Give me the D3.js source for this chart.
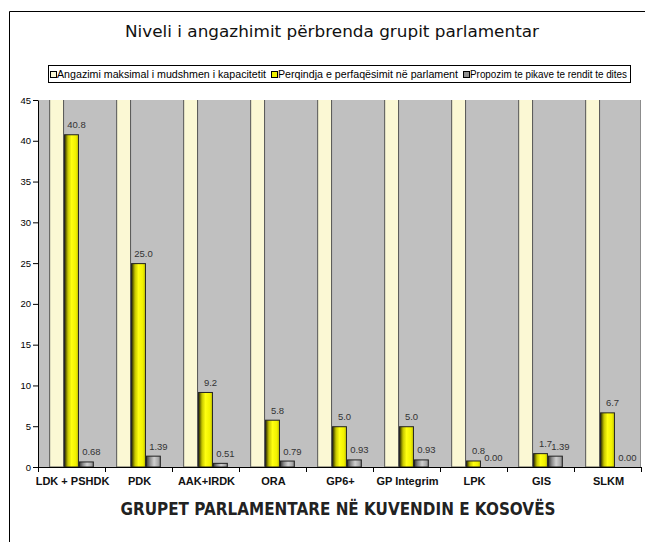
<!DOCTYPE html>
<html>
<head>
<meta charset="utf-8">
<script src="https://cdn.jsdelivr.net/npm/d3@7"></script>
<style>
  body { margin: 0; background: #fff; overflow: hidden; }
  svg { display: block; }
</style>
</head>
<body>
<div id="contenedor"></div>
<script>
// datos
const grupos = ["LDK + PSHDK", "PDK", "AAK+IRDK", "ORA", "GP6+", "GP Integrim", "LPK", "GIS", "SLKM"];
const serieMaksimal = [100, 100, 100, 100, 100, 100, 100, 100, 100];
const seriePerqindja = [40.8, 25.0, 9.2, 5.8, 5.0, 5.0, 0.8, 1.7, 6.7];
const seriePropozim = [0.68, 1.39, 0.51, 0.79, 0.93, 0.93, 0.00, 1.39, 0.00];
const nombresSeries = [
    "Angazimi maksimal i mudshmen i kapacitetit",
    "Perqindja e perfaqësimit në parlament",
    "Propozim te pikave te rendit te dites"
];
const ticksY = [0, 5, 10, 15, 20, 25, 30, 35, 40, 45];

const ANCHO = 645, ALTO = 542;
const IZQ = 38, DER = 641, ARRIBA = 100, ABAJO = 467;

const $svg = d3.select("#contenedor").append("svg")
    .attr("width", ANCHO).attr("height", ALTO);

// degradados de las barras
const defs = $svg.append("defs");
const degradado = (id, paradas) => {
    const g = defs.append("linearGradient").attr("id", id)
        .attr("x1", "0%").attr("x2", "100%").attr("y1", "0%").attr("y2", "0%");
    paradas.forEach(p => g.append("stop").attr("offset", p[0]).attr("stop-color", p[1]));
};
degradado("amarillo", [["0%", "#2b2b00"], ["25%", "#c8c800"], ["50%", "#ffff10"], ["80%", "#f2f200"], ["100%", "#caca00"]]);
degradado("gris", [["0%", "#3a3a3a"], ["25%", "#8c8c8c"], ["55%", "#cfcfcf"], ["85%", "#a8a8a8"], ["100%", "#7a7a7a"]]);
defs.append("clipPath").attr("id", "recorte").append("rect")
    .attr("x", IZQ).attr("y", ARRIBA).attr("width", DER - IZQ).attr("height", ABAJO - ARRIBA);

// marco exterior (solo lados visibles)
$svg.append("path")
    .attr("d", `M9.5,${ALTO} V11.5 H${ANCHO}`)
    .attr("fill", "none").attr("stroke", "#000").attr("stroke-width", 1);

// titulo
$svg.append("text")
    .attr("x", 332).attr("y", 37)
    .attr("text-anchor", "middle")
    .attr("font-family", "DejaVu Sans")
    .attr("font-size", 15)
    .attr("textLength", 414).attr("lengthAdjust", "spacingAndGlyphs")
    .attr("fill", "#111")
    .text("Niveli i angazhimit përbrenda grupit parlamentar");

// leyenda
$svg.append("rect")
    .attr("x", 48.5).attr("y", 65.5).attr("width", 582).attr("height", 17)
    .attr("fill", "#fff").attr("stroke", "#000").attr("stroke-width", 1);
const rellenos = ["#fbf8d4", "url(#amarillo)", "url(#gris)"];
const posCuadro = [50, 271, 463];
const posTexto = [57, 278, 470];
const anchoTexto = [209, 180, 157];
nombresSeries.forEach((nombre, i) => {
    $svg.append("rect")
        .attr("x", posCuadro[i] + 0.5).attr("y", 71.5).attr("width", 6).attr("height", 6)
        .attr("fill", i === 1 ? "#f0f000" : (i === 2 ? "#909090" : rellenos[i])).attr("stroke", "#000");
    $svg.append("text")
        .attr("x", posTexto[i]).attr("y", 78)
        .attr("font-family", "Liberation Sans, Arial")
        .attr("font-size", 10)
        .attr("textLength", anchoTexto[i]).attr("lengthAdjust", "spacingAndGlyphs")
        .attr("fill", "#000")
        .text(nombre);
});

// escalas
const x0 = d3.scaleBand().domain(grupos).range([IZQ, DER]).padding(0);
const x1 = d3.scaleBand().domain([0, 1, 2]).range([0, x0.bandwidth()]).paddingInner(0).paddingOuter(0.75);
const y = d3.scaleLinear().domain([0, 45]).range([ABAJO, ARRIBA]);

// area del grafico
$svg.append("rect")
    .attr("x", IZQ).attr("y", ARRIBA).attr("width", DER - IZQ).attr("height", ABAJO - ARRIBA)
    .attr("fill", "#c0c0c0");
$svg.append("line")
    .attr("x1", DER - 0.5).attr("x2", DER - 0.5).attr("y1", ARRIBA).attr("y2", ABAJO)
    .attr("stroke", "#8c8c8c");

// barras
const series = [serieMaksimal, seriePerqindja, seriePropozim];
const gBarras = $svg.append("g").attr("clip-path", "url(#recorte)");
series.forEach((valores, s) => {
    gBarras.selectAll(null)
        .data(valores)
        .enter()
        .append("rect")
        .attr("x", (d, i) => x0(grupos[i]) + x1(s) + 0.5)
        .attr("y", d => y(Math.min(d, 46)) + 0.5)
        .attr("width", x1.bandwidth() - 1)
        .attr("height", d => Math.max(0, y(0) - y(Math.min(d, 46)) - 0.5))
        .attr("fill", rellenos[s])
        .attr("stroke", s === 0 ? "#555" : "#222")
        .attr("stroke-width", 1);
});

// etiquetas de valores
const etiquetas = [
    { valores: seriePerqindja, s: 1, formato: d3.format(".1f") },
    { valores: seriePropozim, s: 2, formato: d3.format(".2f") }
];
etiquetas.forEach(e => {
    $svg.selectAll(null)
        .data(e.valores)
        .enter()
        .append("text")
        .attr("x", (d, i) => x0(grupos[i]) + x1(e.s) + x1.bandwidth() / 2 + 5)
        .attr("y", d => y(d) - 6)
        .attr("text-anchor", "middle")
        .attr("font-family", "Liberation Sans, Arial")
        .attr("font-size", 9.5)
        .attr("fill", "#333")
        .text(d => e.formato(d));
});

// ejes
const ejeY = d3.axisLeft(y).tickValues(ticksY).tickSize(5).tickPadding(2).tickSizeOuter(0);
const gY = $svg.append("g").attr("transform", `translate(${IZQ},0)`).call(ejeY);
gY.selectAll("text").attr("font-family", "Liberation Sans, Arial").attr("font-size", 9.5).attr("fill", "#000");
gY.select(".domain").attr("stroke", "#000");

const gX = $svg.append("g").attr("transform", `translate(0,${ABAJO})`);
gX.append("line").attr("x1", IZQ).attr("x2", DER).attr("y1", 0.5).attr("y2", 0.5).attr("stroke", "#000");
gX.selectAll(null)
    .data(grupos.concat(["fin"]))
    .enter()
    .append("line")
    .attr("x1", (d, i) => Math.round(IZQ + i * x0.step()) + 0.5)
    .attr("x2", (d, i) => Math.round(IZQ + i * x0.step()) + 0.5)
    .attr("y1", 0).attr("y2", 5)
    .attr("stroke", "#000");
gX.selectAll(null)
    .data(grupos)
    .enter()
    .append("text")
    .attr("x", d => x0(d) + x0.bandwidth() / 2 + 1)
    .attr("y", 18)
    .attr("text-anchor", "middle")
    .attr("font-family", "Liberation Sans, Arial")
    .attr("font-weight", "bold")
    .attr("font-size", 11)
    .attr("fill", "#111")
    .text(d => d);

// titulo del eje X
$svg.append("text")
    .attr("x", 338).attr("y", 515)
    .attr("text-anchor", "middle")
    .attr("font-family", "DejaVu Sans")
    .attr("font-weight", "bold")
    .attr("font-size", 17)
    .attr("textLength", 435).attr("lengthAdjust", "spacingAndGlyphs")
    .attr("fill", "#222")
    .text("GRUPET PARLAMENTARE NË KUVENDIN E KOSOVËS");
</script>
</body>
</html>
